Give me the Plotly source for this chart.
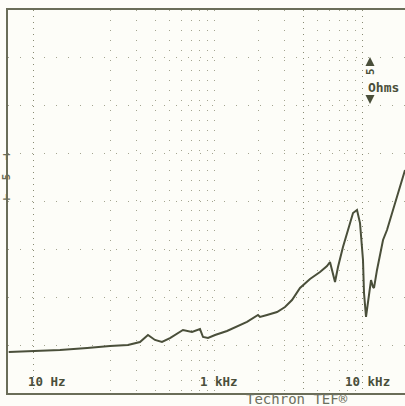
import math
import plotly.graph_objects as go

# Impedance sweep (Techron TEF), magnitude in ohms against frequency in Hz
freq_hz = [41, 60, 91, 139, 162, 198, 262, 316, 358, 399, 445, 504, 617, 710,
           804, 843, 911, 1016, 1224, 1671, 1983, 2046, 2281, 2666, 3018, 3365,
           3812, 4453, 5202, 5800, 6077, 6271, 6571, 6883, 7438, 8043, 8695,
           9252, 9694, 10156, 10316, 10642, 10978, 11503, 11867, 12053, 12630,
           13870, 14753, 16200, 17510, 18640, 19530]
impedance_ohm = [4.28, 4.39, 4.49, 4.70, 4.80, 4.91, 5.01, 5.33, 6.06, 5.54,
                 5.33, 5.74, 6.58, 6.37, 6.68, 5.85, 5.74, 6.06, 6.48, 7.42,
                 8.15, 7.94, 8.15, 8.46, 8.98, 9.71, 10.97, 11.91, 12.64, 13.26,
                 13.68, 12.85, 11.59, 13.16, 15.25, 17.02, 18.80, 19.11, 17.75,
                 13.89, 10.44, 7.94, 9.71, 11.80, 11.07, 10.97, 12.85, 15.98,
                 17.02, 19.11, 20.89, 22.45, 23.29]

# grid: heavier dotted lines, lighter log-decade lines, 5 ohms per division
major_grid_hz = [60, 4000, 10000]
minor_grid_hz = [200, 300, 400, 500, 600, 700, 800, 900, 1000,
                 2000, 3000, 5000, 6000, 7000, 8000, 9000]
ohm_range = [0, 40]
ohm_step = 5

x_labels = [(1000, "1 kHz", -16), (10000, "10 kHz", -19)]
start_label = "10 Hz"
unit_label = "Ohms"
brand_label = "Techron TEF\u00ae"

INK = "#4a4f3a"
FRAME = "#6a6d58"
DOTS = "#a4a590"
MONO = "DejaVu Sans Mono"

W, H = 405, 406
L, T, R, B = 8, 10, 0, 13


def px(x):
    return (x - L) / (W - L - R)


def py(y):
    return (H - B - y) / (H - T - B)


fig = go.Figure(go.Scatter(
    x=freq_hz, y=impedance_ohm, mode="lines",
    line=dict(color=INK, width=2), hoverinfo="skip", showlegend=False,
))

fig.update_xaxes(
    type="log", range=[1.608, 4.2905],
    tickvals=major_grid_hz, showticklabels=False, ticks="",
    showgrid=True, gridcolor="#888a72", gridwidth=1, griddash="1px,5px",
    minor=dict(tickvals=minor_grid_hz, showgrid=True, gridcolor=DOTS,
               gridwidth=1, griddash="1px,9px", ticks=""),
    showline=True, linecolor=FRAME, linewidth=2, mirror=True,
    zeroline=False, fixedrange=True,
)
fig.update_yaxes(
    range=ohm_range, dtick=ohm_step, showticklabels=False, ticks="",
    showgrid=True, gridcolor=DOTS, gridwidth=1, griddash="1px,11px",
    showline=True, linecolor=FRAME, linewidth=2, mirror=False,
    zeroline=False, fixedrange=True,
)

ann = []
lab_font = dict(family=MONO, size=12.5, color=INK)
ann.append(dict(text="<b>" + start_label + "</b>", xref="paper", yref="paper",
                x=px(26), y=py(381), xanchor="left", yanchor="middle",
                showarrow=False, font=lab_font))
for f, txt, shift in x_labels:
    ann.append(dict(text="<b>" + txt + "</b>", xref="x", yref="paper",
                    x=math.log10(f), y=py(381), xanchor="left",
                    yanchor="middle", xshift=shift,
                    showarrow=False, font=lab_font))

# per-division marker on the right
ann.append(dict(text="<b>" + unit_label + "</b>", xref="paper", yref="paper",
                x=px(366), y=py(87), xanchor="left", yanchor="middle",
                showarrow=False, font=dict(family=MONO, size=13, color=INK)))
ann.append(dict(text="<b>5</b>", xref="paper", yref="paper", x=px(370), y=py(72),
                xanchor="center", yanchor="middle", showarrow=False,
                textangle=-90, font=dict(family=MONO, size=11, color=INK)))
ann.append(dict(text="", xref="paper", yref="paper", x=px(370), y=py(57),
                ax=0, ay=10, showarrow=True, arrowhead=2, arrowsize=0.9,
                arrowwidth=2, arrowcolor=INK))
ann.append(dict(text="", xref="paper", yref="paper", x=px(370), y=py(104),
                ax=0, ay=-9, showarrow=True, arrowhead=2, arrowsize=0.9,
                arrowwidth=2, arrowcolor=INK))

# reference marker on the left edge
ann.append(dict(text="<b>\u22a2  5  \u22a3</b>", xref="paper", yref="paper",
                x=px(7), y=py(177), xanchor="center", yanchor="middle",
                showarrow=False, textangle=-90,
                font=dict(family=MONO, size=11, color=FRAME)))

# maker line under the frame
ann.append(dict(text=brand_label, xref="paper", yref="paper",
                x=px(244), y=py(389), xanchor="left", yanchor="top",
                showarrow=False,
                font=dict(family=MONO, size=14, color="#6d7060")))

fig.update_layout(
    width=W, height=H,
    margin=dict(l=L, r=R, t=T, b=B, pad=0),
    paper_bgcolor="#fdfdf8", plot_bgcolor="#fdfdf8",
    annotations=ann,
)

fig.write_html("out.html", config=dict(displayModeBar=False))
